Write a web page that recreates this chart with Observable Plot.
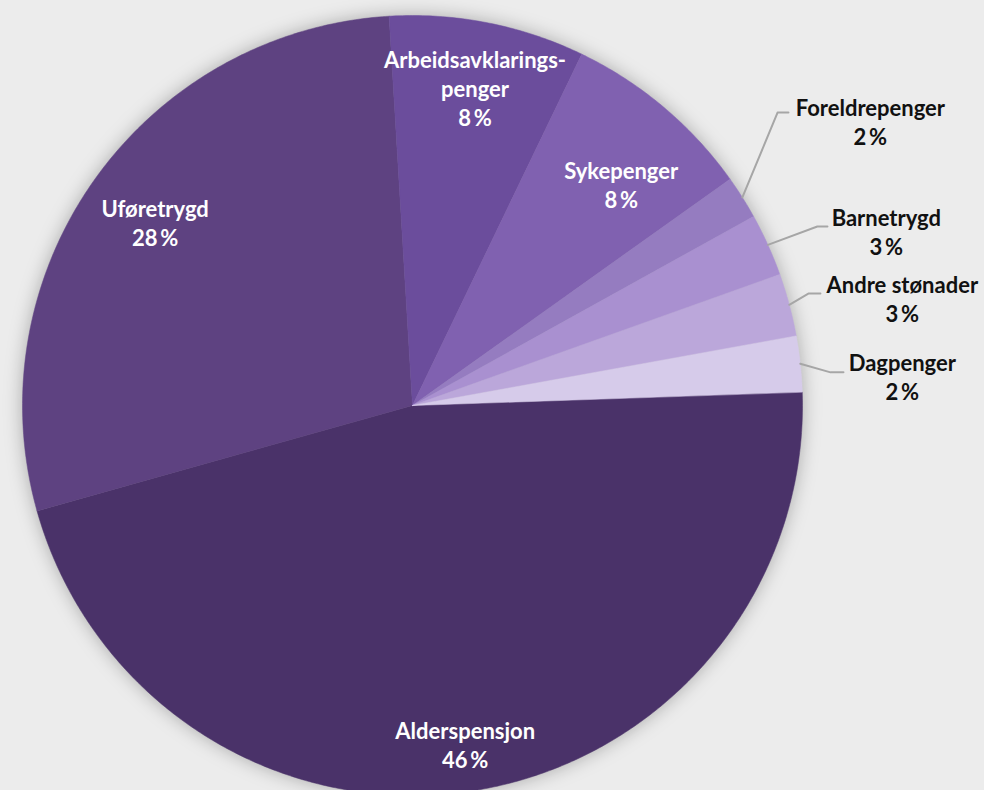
<!DOCTYPE html>
<html>
<head>
<meta charset="utf-8">
<script src="https://cdn.jsdelivr.net/npm/d3@7"></script>
<script src="https://cdn.jsdelivr.net/npm/@observablehq/plot@0.6"></script>
<style>
  html, body { margin: 0; padding: 0; background: #ececec; overflow: hidden; }
  #chart svg { display: block; }
</style>
</head>
<body>
<div id="chart"></div>
<script>
// ---- data ----
const names = ["Alderspensjon", "Uføretrygd", "Arbeidsavklaringspenger", "Sykepenger",
               "Foreldrepenger", "Barnetrygd", "Andre stønader", "Dagpenger"];
const labelTexts = ["Alderspensjon", "Uføretrygd", "Arbeidsavklarings-\npenger", "Sykepenger",
                    "Foreldrepenger", "Barnetrygd", "Andre stønader", "Dagpenger"];
const shares = [46.2, 28.4, 8.1, 8.0, 1.8, 2.6, 2.6, 2.3];
const colors = ["#4a3269", "#5e4281", "#6b4d9c", "#8061b0", "#957cc0", "#a990d0", "#bba7da", "#d6cbea"];
const firstSliceAngle = 88; // degrees clockwise from 12 o'clock (as in the source chart)

// label layout (radius factor, angle tweak) for inside labels; anchors for outside ones
const insideLabels = [
  {name: "Alderspensjon", r: 0.88, da: 0},
  {name: "Uføretrygd", r: 0.81, da: 0},
  {name: "Arbeidsavklaringspenger", r: 0.83, da: 0},
  {name: "Sykepenger", r: 0.78, da: 3.2}
];
const outsideLabels = [
  {name: "Foreldrepenger", tx: 1.174, ty: 0.730, ex: 0.936, ey: 0.751, lx: 0.964},
  {name: "Barnetrygd",     tx: 1.215, ty: 0.446, ex: 1.038, ey: 0.459, lx: 1.064},
  {name: "Andre stønader", tx: 1.256, ty: 0.274, ex: 1.015, ey: 0.287, lx: 1.046},
  {name: "Dagpenger",      tx: 1.256, ty: 0.076, ex: 1.072, ey: 0.085, lx: 1.105}
];

// ---- derived geometry (from data) ----
const total = d3.sum(shares);
const deg = Math.PI / 180;
let cum = 0;
const slices = names.map((name, i) => {
  const start = firstSliceAngle + cum / total * 360;
  cum += shares[i];
  const end = firstSliceAngle + cum / total * 360;
  return {name, share: shares[i], start, end, mid: (start + end) / 2, text: labelTexts[i], color: colors[i]};
});
// clock angle (deg, clockwise from 12) -> unit-circle data coords
const px = (a, r = 1) => r * Math.sin(a * deg);
const py = (a, r = 1) => r * Math.cos(a * deg);

const slicePoints = [];
for (const s of slices) {
  slicePoints.push({name: s.name, x: 0, y: 0});
  const n = Math.max(2, Math.ceil((s.end - s.start) / 0.5));
  for (let k = 0; k <= n; k++) {
    const a = s.start + (s.end - s.start) * k / n;
    slicePoints.push({name: s.name, x: px(a), y: py(a)});
  }
}
const byName = new Map(slices.map(s => [s.name, s]));
const pct = s => `${Math.round(s.share)}\u2009%`;

const inside = insideLabels.map(l => {
  const s = byName.get(l.name);
  const a = s.mid + l.da;
  return {x: px(a, l.r), y: py(a, l.r), text: `${s.text}\n${pct(s)}`};
});
const outside = outsideLabels.map(l => {
  const s = byName.get(l.name);
  return {x: l.tx, y: l.ty, text: `${s.text}\n${pct(s)}`};
});
const leaders = [];
for (const l of outsideLabels) {
  const s = byName.get(l.name);
  leaders.push({name: l.name, x: px(s.mid), y: py(s.mid)});
  leaders.push({name: l.name, x: l.ex, y: l.ey});
  leaders.push({name: l.name, x: l.lx, y: l.ey});
}

const font = "Lato, 'Open Sans', sans-serif";
const chart = Plot.plot({
  width: 984,
  height: 790,
  marginLeft: 22,
  marginRight: 182,
  marginTop: 15,
  marginBottom: 0,
  x: {domain: [-1, 1], axis: null},
  y: {domain: [-385 / 390, 1], axis: null},
  color: {domain: names, range: colors},
  style: {background: "#ececec", fontFamily: font, overflow: "hidden"},
  marks: [
    Plot.line(slicePoints, {x: "x", y: "y", z: "name", fill: "name", stroke: "name", strokeWidth: 0.5, curve: "linear-closed"}),
    Plot.line(leaders, {x: "x", y: "y", z: "name", stroke: "#a6a6a6", strokeWidth: 2}),
    Plot.text(inside, {x: "x", y: "y", text: "text", fill: "#ffffff", fontSize: 22, fontWeight: "bold", lineHeight: 1.32}),
    Plot.text(outside, {x: "x", y: "y", text: "text", fill: "#111111", fontSize: 22, fontWeight: "bold", lineHeight: 1.32})
  ]
});
const g = chart.querySelector('g[aria-label="line"]');
if (g) g.style.filter = "drop-shadow(0px 0px 9px rgba(0,0,0,0.28))";
document.getElementById("chart").appendChild(chart);
</script>
</body>
</html>
